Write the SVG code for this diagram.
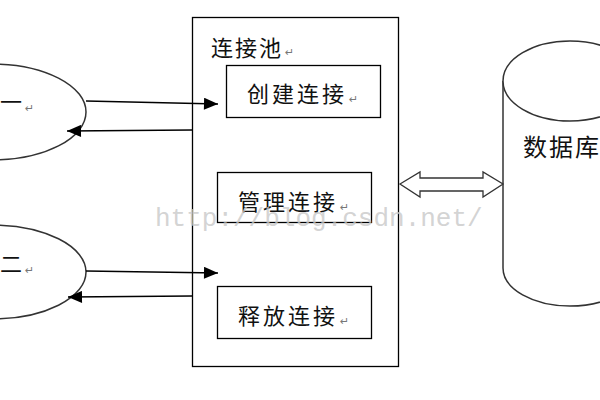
<svg xmlns="http://www.w3.org/2000/svg" width="600" height="400" viewBox="0 0 600 400">
<style>
.sh{fill:#fff;stroke:#000;stroke-width:1.3}
.el{fill:#fff;stroke:#333;stroke-width:1.5}
.t{font-family:"Liberation Serif","Noto Sans CJK SC",serif;fill:#111;font-size:22px;letter-spacing:3px}
.rt{font-family:"DejaVu Sans",sans-serif;font-size:11px;fill:#777}
.cn{stroke:#000;stroke-width:1.5;fill:none}
.wm{font-family:"Liberation Mono",monospace;font-size:26px;fill:#c8c8c8;fill-opacity:0.8}
</style>
<defs>
<marker id="ahl" viewBox="0 0 14 12" refX="14" refY="6" markerWidth="15" markerHeight="12" markerUnits="userSpaceOnUse" orient="auto">
<path d="M0,0 L14,6 L0,12 Z" fill="#000"/>
</marker>
</defs>
<g id="client1">
<ellipse class="el" cx="-8" cy="112" rx="94" ry="48"/>
<text class="t" x="0" y="110">一</text>
<text class="rt" x="25" y="112">↵</text>
</g>
<g id="client2">
<ellipse class="el" cx="-8" cy="272" rx="94" ry="47"/>
<text class="t" x="0" y="272">二</text>
<text class="rt" x="25" y="274">↵</text>
</g>
<g id="pool">
<rect class="sh" x="192.5" y="17.5" width="206" height="349"/>
<text class="t" x="211" y="56" style="letter-spacing:2px">连接池</text>
<text class="rt" x="285" y="56">↵</text>
</g>
<g id="create">
<rect class="sh" x="226.5" y="65.5" width="154" height="52"/>
<text class="t" x="247" y="102">创建连接</text>
<text class="rt" x="349" y="103">↵</text>
</g>
<g id="manage">
<rect class="sh" x="217.5" y="172.5" width="154" height="50"/>
<text class="t" x="238" y="210">管理连接</text>
<text class="rt" x="340" y="211">↵</text>
</g>
<g id="release">
<rect class="sh" x="217.5" y="286.5" width="154" height="52"/>
<text class="t" x="238" y="324">释放连接</text>
<text class="rt" x="340" y="325">↵</text>
</g>
<g id="database">
<path class="el" d="M503,81 L503,268 A67,38 0 0 0 637,268 L637,81"/>
<ellipse class="el" cx="570" cy="81" rx="67" ry="40"/>
<text class="t" x="523" y="156" style="font-size:24px;letter-spacing:2px">数据库</text>
</g>
<text class="wm" x="155" y="226">http://blog.csdn.net/</text>
<g id="connectors">
<line class="cn" x1="86" y1="101" x2="218" y2="104" marker-end="url(#ahl)"/>
<line class="cn" x1="192" y1="130" x2="67" y2="131" marker-end="url(#ahl)"/>
<line class="cn" x1="86" y1="271" x2="218" y2="273" marker-end="url(#ahl)"/>
<line class="cn" x1="192" y1="296" x2="68" y2="297" marker-end="url(#ahl)"/>
<path d="M400,184 L420,172 L420,178 L483,178 L483,172 L503,184 L483,197 L483,191 L420,191 L420,197 Z" fill="#fff" stroke="#333" stroke-width="1.3"/>
</g>
</svg>
